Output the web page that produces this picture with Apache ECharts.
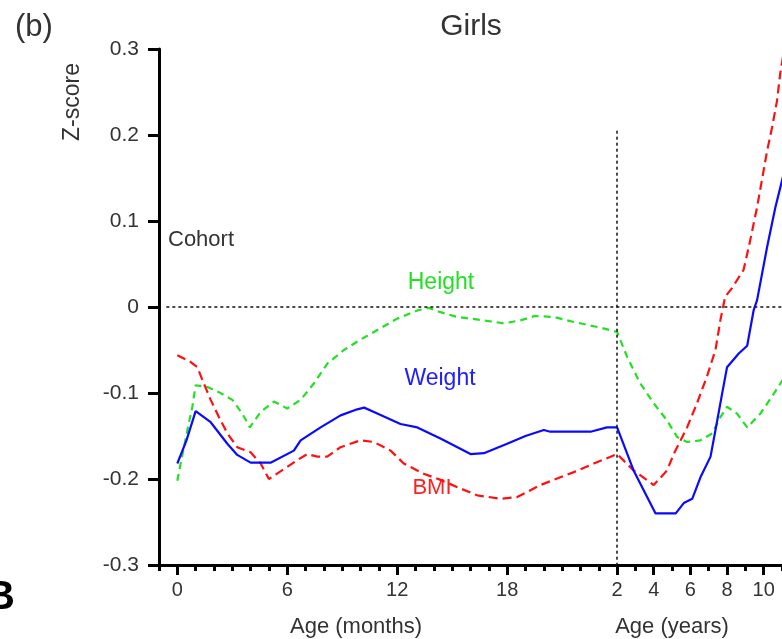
<!DOCTYPE html>
<html>
<head>
<meta charset="utf-8">
<script src="https://cdn.jsdelivr.net/npm/echarts@6/dist/echarts.min.js"></script>
<style>
  html, body { margin: 0; padding: 0; background: #fff; }
  #chart { width: 782px; height: 639px; }
</style>
</head>
<body>
<div id="chart"></div>
<script>
// Age position: months 0..24 on the left, then one unit per year from 2 years (position 24).
const monthTicks = [0, 6, 12, 18];
const yearTicks = [2, 4, 6, 8, 10];
const yTicks = [-0.3, -0.2, -0.1, 0, 0.1, 0.2, 0.3];

// Z-score curves: [age position, z-score]
const weightPoints = [
  [0, -0.182], [0.5, -0.155], [1.0, -0.121], [1.82, -0.134], [2.73, -0.159], [3.27, -0.172],
  [4.0, -0.181], [5.09, -0.181], [6.36, -0.167], [6.73, -0.155], [7.82, -0.140], [8.91, -0.126],
  [9.82, -0.119], [10.2, -0.117], [10.73, -0.122], [12.18, -0.136], [13.1, -0.140], [14.36, -0.153],
  [16.0, -0.171], [16.73, -0.170], [18.0, -0.159], [19.0, -0.150], [20.0, -0.143], [20.36, -0.145],
  [22.55, -0.145], [22.64, -0.143], [23.45, -0.140], [24.0, -0.140], [24.9, -0.190], [26.1, -0.240],
  [27.2, -0.240], [27.64, -0.228], [28.1, -0.223], [28.55, -0.198], [29.1, -0.174], [29.37, -0.143],
  [29.73, -0.101], [30.0, -0.070], [30.64, -0.054], [31.1, -0.045], [31.45, -0.004], [31.64, 0.008],
  [32.19, 0.070], [32.64, 0.116], [33.0, 0.147], [33.5, 0.19]
];
const bmiPoints = [
  [0, -0.056], [0.73, -0.064], [1.09, -0.070], [1.45, -0.089], [1.82, -0.108], [2.27, -0.128],
  [2.73, -0.147], [3.27, -0.163], [4.0, -0.169], [4.55, -0.182], [5.0, -0.200], [6.0, -0.186],
  [6.55, -0.178], [7.09, -0.171], [7.64, -0.174], [8.18, -0.174], [8.91, -0.163], [10.0, -0.155],
  [10.73, -0.157], [11.64, -0.167], [12.36, -0.182], [13.45, -0.194], [14.36, -0.201], [15.45, -0.211],
  [16.37, -0.219], [17.64, -0.223], [18.55, -0.221], [19.82, -0.207], [20.55, -0.201], [21.64, -0.192],
  [22.73, -0.182], [24.0, -0.171], [24.9, -0.190], [26.0, -0.207], [26.73, -0.190], [27.09, -0.171],
  [27.82, -0.140], [28.36, -0.112], [28.9, -0.081], [29.37, -0.050], [29.64, -0.015], [29.9, 0.012],
  [30.27, 0.022], [30.9, 0.043], [31.19, 0.070], [31.64, 0.116], [31.9, 0.147], [32.19, 0.182],
  [32.46, 0.209], [32.73, 0.240], [32.9, 0.271], [33.2, 0.31]
];
const heightPoints = [
  [0, -0.202], [0.18, -0.182], [0.55, -0.143], [0.82, -0.116], [1.0, -0.091], [1.64, -0.093],
  [2.27, -0.099], [3.0, -0.108], [3.55, -0.124], [3.96, -0.140], [4.55, -0.122], [5.27, -0.110],
  [6.0, -0.118], [6.73, -0.108], [7.45, -0.089], [8.18, -0.066], [9.09, -0.050], [9.91, -0.039],
  [10.73, -0.029], [12.0, -0.0135], [13.1, -0.004], [13.73, -0.001], [14.36, -0.006], [15.27, -0.0116],
  [16.55, -0.015], [17.82, -0.019], [18.73, -0.0155], [19.5, -0.0105], [20.55, -0.0116], [21.64, -0.0174],
  [23.09, -0.024], [24.0, -0.029], [24.55, -0.058], [25.27, -0.089], [26.0, -0.112], [26.73, -0.132],
  [27.27, -0.151], [27.82, -0.157], [28.55, -0.155], [29.19, -0.147], [29.64, -0.128], [30.0, -0.116],
  [30.55, -0.124], [31.1, -0.140], [31.82, -0.124], [32.55, -0.101], [33.03, -0.085], [33.5, -0.07]
];

// Position on the age scale of each labelled tick
const monthPos = monthTicks.map(m => m);
const yearPos = yearTicks.map(y => 24 + (y - 2));
const labelAt = {};
monthTicks.forEach((m, i) => { labelAt[monthPos[i]] = String(m); });
yearTicks.forEach((y, i) => { labelAt[yearPos[i]] = String(y); });

const xMin = -1, xMax = 33;
const font = '"Liberation Sans", Arial, sans-serif';

const chart = echarts.init(document.getElementById('chart'), null, { renderer: 'canvas' });

const refLineStyle = { color: '#111', type: [3, 3], width: 1.5 };

chart.setOption({
  animation: false,
  backgroundColor: '#fff',
  grid: { left: 159, top: 49, bottom: 74, right: 0 },
  xAxis: [
    {
      type: 'value', min: xMin, max: xMax, interval: 1,
      axisLine: { show: true, onZero: false, lineStyle: { color: '#000', width: 3 } },
      axisTick: { show: true, length: 10, lineStyle: { color: '#000', width: 3 },
                  customValues: monthPos.concat(yearPos) },
      axisLabel: { show: true, customValues: monthPos.concat(yearPos),
                   formatter: v => labelAt[v] ?? '', color: '#333', fontSize: 20,
                   fontFamily: font, margin: 15 },
      splitLine: { show: false }
    },
    {
      type: 'value', min: xMin, max: xMax, interval: 1, position: 'bottom',
      axisLine: { show: false, onZero: false },
      axisTick: { show: true, length: 6, lineStyle: { color: '#000', width: 3 } },
      axisLabel: { show: false },
      splitLine: { show: false }
    }
  ],
  yAxis: {
    type: 'value', min: yTicks[0], max: yTicks[yTicks.length - 1], interval: 0.1,
    axisLine: { show: true, onZero: false, lineStyle: { color: '#000', width: 3 } },
    axisTick: { show: true, length: 11, lineStyle: { color: '#000', width: 3 } },
    axisLabel: { color: '#333', fontSize: 21, fontFamily: font, margin: 20,
                 formatter: v => Math.abs(v) < 1e-9 ? '0' : v.toFixed(1) },
    splitLine: { show: false }
  },
  series: [
    {
      name: 'Reference', type: 'line', data: [], silent: true,
      markLine: {
        symbol: 'none', silent: true, label: { show: false },
        lineStyle: refLineStyle,
        data: [
          [{ coord: [-0.6, 0] }, { coord: [xMax, 0] }],
          [{ coord: [24, 0.205] }, { coord: [24, -0.3] }]
        ]
      }
    },
    {
      name: 'Height', type: 'line', data: heightPoints, showSymbol: false,
      lineStyle: { color: '#22e022', width: 2.2, type: [7, 5] }, clip: true
    },
    {
      name: 'BMI', type: 'line', data: bmiPoints, showSymbol: false,
      lineStyle: { color: '#ff1010', width: 2.2, type: [9, 5] }, clip: true
    },
    {
      name: 'Weight', type: 'line', data: weightPoints, showSymbol: false,
      lineStyle: { color: '#0a0aff', width: 2.2 }, clip: true
    }
  ],
  graphic: [
    { type: 'text', x: 15, y: 27, style: { text: '(b)', font: '31px ' + font, fill: '#333',
      textVerticalAlign: 'middle' } },
    { type: 'text', x: 471, y: 27, style: { text: 'Girls', font: '30px ' + font, fill: '#333',
      textAlign: 'center', textVerticalAlign: 'middle' } },
    { type: 'text', x: 73, y: 102, rotation: Math.PI / 2,
      style: { text: 'Z-score', font: '23px ' + font, fill: '#333',
               textAlign: 'center', textVerticalAlign: 'middle' } },
    { type: 'text', x: 168, y: 240, style: { text: 'Cohort', font: '22px ' + font, fill: '#333',
      textVerticalAlign: 'middle' } },
    { type: 'text', x: 441, y: 283, style: { text: 'Height', font: '23px ' + font, fill: '#22e022',
      textAlign: 'center', textVerticalAlign: 'middle' } },
    { type: 'text', x: 440, y: 379, style: { text: 'Weight', font: '23px ' + font, fill: '#2020ff',
      textAlign: 'center', textVerticalAlign: 'middle' } },
    { type: 'text', x: 432, y: 488, style: { text: 'BMI', font: '22px ' + font, fill: '#ff2020',
      textAlign: 'center', textVerticalAlign: 'middle' } },
    { type: 'text', x: 356, y: 627, style: { text: 'Age (months)', font: '22px ' + font, fill: '#333',
      textAlign: 'center', textVerticalAlign: 'middle' } },
    { type: 'text', x: 672, y: 627, style: { text: 'Age (years)', font: '22px ' + font, fill: '#333',
      textAlign: 'center', textVerticalAlign: 'middle' } },
    { type: 'text', x: -14, y: 598, style: { text: 'B', font: 'bold 40px ' + font, fill: '#000',
      textVerticalAlign: 'middle' } }
  ]
});
</script>
</body>
</html>
